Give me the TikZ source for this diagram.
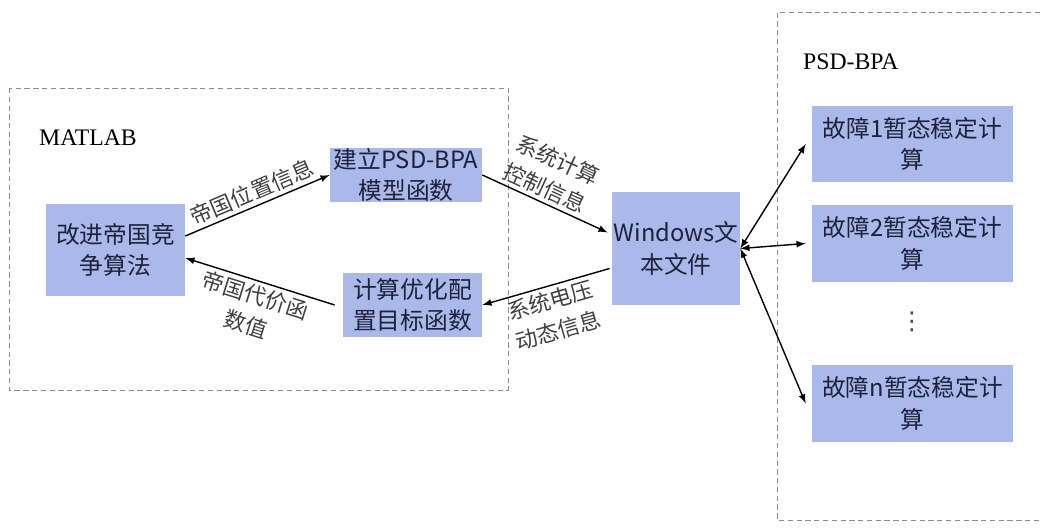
\documentclass[tikz,border=0pt]{standalone}
\usepackage{fontspec}
\setmainfont{Liberation Serif}
\newfontfamily\cjk{Noto Sans CJK SC}
\newfontfamily\symfont{DejaVu Sans}
\usetikzlibrary{arrows}
\definecolor{boxblue}{RGB}{170,184,234}
\definecolor{boxtext}{RGB}{28,34,58}
\tikzstyle{box} = [rectangle, fill=boxblue, text=boxtext, align=center, inner sep=0pt, font=\cjk\fontsize{13.5}{18}\selectfont]
\tikzstyle{lbl} = [align=center, inner sep=2pt, text=black!75, font=\cjk\fontsize{12.5}{17.5}\selectfont]
\tikzstyle{frame} = [draw=black!45, densely dashed, line width=0.5pt]
\tikzstyle{title} = [anchor=west, font=\fontsize{13.5}{16}\selectfont]
\tikzstyle{link} = [line width=0.8pt, >=latex]

\begin{document}
\begin{tikzpicture}[x=0.02cm, y=-0.02cm]
    \useasboundingbox (0,0) rectangle (1040,530);

    \draw[frame] (9,88) rectangle (508,390);
    \draw[frame] (1040,12) -| (777,520) -- (1040,520);
    \node at (33,138) [title] (matlab) {MATLAB};
    \node at (797,62) [title] (bpa) {PSD-BPA};

    \node at (115.5,250) [box, minimum width=2.78cm, minimum height=1.84cm] (algo) {改进帝国竞\\争算法};
    \node at (406,175) [box, minimum width=3.04cm, minimum height=1.08cm] (model) {建立PSD-BPA\\模型函数};
    \node at (412.5,305) [box, minimum width=2.78cm, minimum height=1.28cm] (target) {计算优化配\\置目标函数};
    \node at (676,248.5) [box, minimum width=2.56cm, minimum height=2.26cm] (txt) {Windows文\\本文件};
    \node at (912.5,144) [box, minimum width=4.02cm, minimum height=1.52cm] (fault1) {故障1暂态稳定计\\算};
    \node at (912.5,243.5) [box, minimum width=4.02cm, minimum height=1.54cm] (fault2) {故障2暂态稳定计\\算};
    \node at (912,322) [text=black!70, font=\symfont\fontsize{14}{14}\selectfont] (dots) {⋮};
    \node at (912.5,403.5) [box, minimum width=4.02cm, minimum height=1.54cm] (faultn) {故障n暂态稳定计\\算};

    \draw[link,->] ([yshift=0.28cm]algo.east) -- node[lbl, sloped, above] {帝国位置信息} (model.west);
    \draw[link,<-] ([yshift=-0.16cm]algo.east) -- node[lbl, sloped, below] {帝国代价函\\数值} ([xshift=-0.16cm]target.west);
    \draw[link,->] (model.east) -- node[lbl, sloped, above, pos=0.45] {系统计算\\控制信息} ([xshift=-0.08cm, yshift=0.32cm]txt.west);
    \draw[link,<-] (target.east) -- node[lbl, sloped, below] {系统电压\\动态信息} ([xshift=-0.04cm, yshift=-0.4cm]txt.west);
    \draw[link,<->] (txt.east) -- ([xshift=-0.12cm]fault1.west);
    \draw[link,<->] (txt.east) -- ([xshift=-0.12cm]fault2.west);
    \draw[link,<->] (txt.east) -- ([xshift=-0.12cm]faultn.west);

    \end{tikzpicture}
\end{document}
